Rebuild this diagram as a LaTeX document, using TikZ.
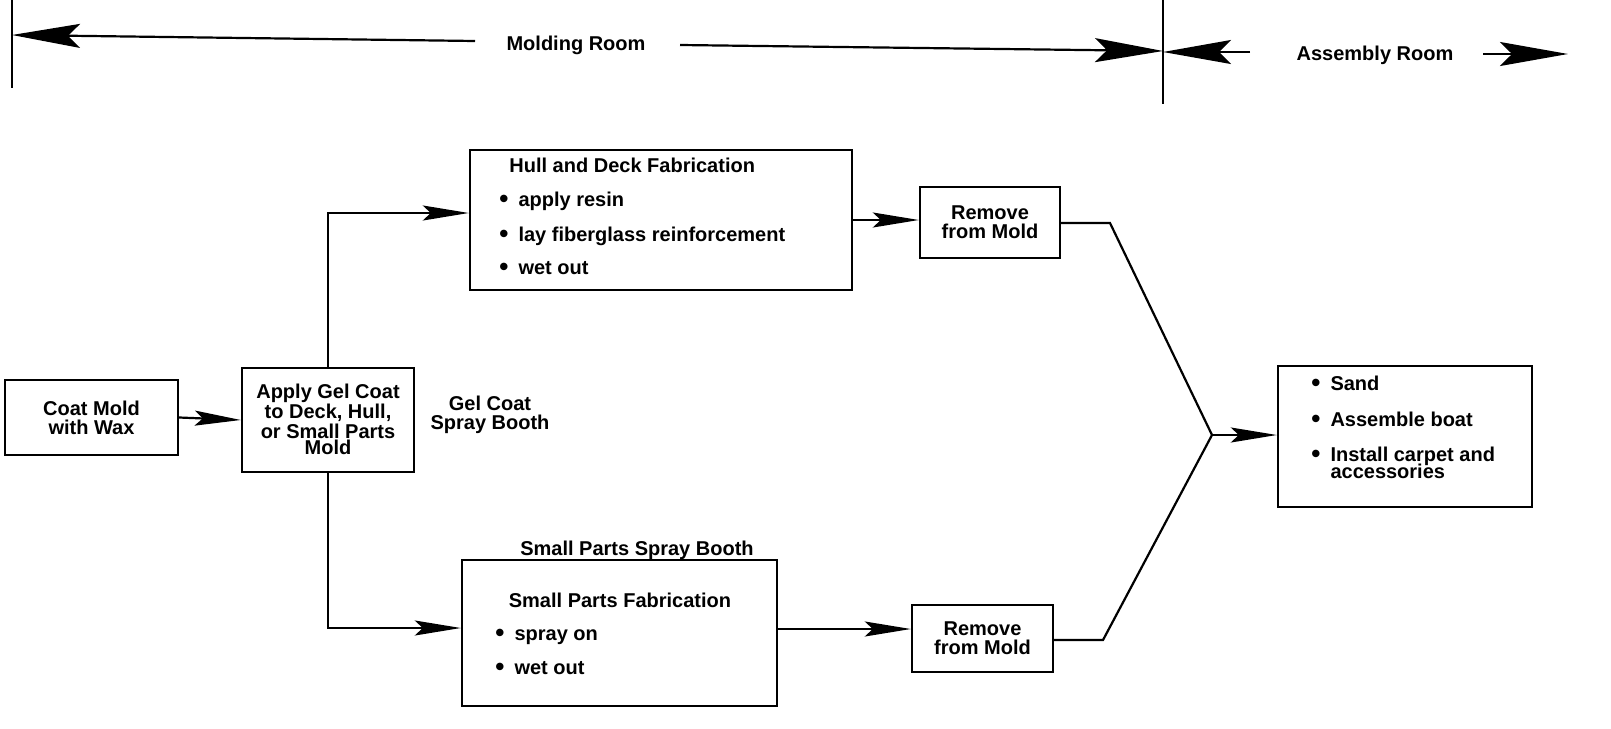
\documentclass[tikz,border=0pt]{standalone}
\usepackage{fontspec}
\setmainfont{Liberation Sans}
\usetikzlibrary{arrows.meta,calc}
\newcommand\mybul{\raisebox{-0.6pt}{\fontsize{13}{8}\selectfont\textbullet}\enspace}
\tikzset{
  box/.style={draw, line width=1.2pt, inner sep=0pt},
  txt/.style={font=\fontsize{10}{9.5}\selectfont\bfseries, inner sep=0pt, align=center},
  tight/.style={font=\fontsize{10}{7.9}\selectfont\bfseries, inner sep=0pt, align=center},
  item/.style={font=\fontsize{10}{8}\selectfont\bfseries, inner sep=0pt, anchor=base west},
  conn/.style={line width=1.1pt},
  flow/.style={line width=1.1pt, -{Stealth[length=23pt, width=7.5pt, inset=4pt]}},
  big/.style={line width=1.1pt, -{Stealth[length=34pt, width=12pt, inset=6pt]}}
}
\begin{document}
\begin{tikzpicture}[x=0.5pt, y=-0.5pt]
\useasboundingbox (0,0) rectangle (1611,728);

% room header
\coordinate (l1) at (12,0);
\coordinate (l2) at (12,88);
\coordinate (m1) at (1163,0);
\coordinate (m2) at (1163,104);
\draw[line width=1.3pt] (l1) -- (l2);
\draw[line width=1.3pt] (m1) -- (m2);
\node[txt, anchor=base] (molding) at (576,50) {Molding Room};
\node[txt, anchor=base] (assembly) at (1375,61) {Assembly Room};
\coordinate (mlA) at (475,41);
\coordinate (mlT) at (12,35);
\coordinate (mrA) at (680,45);
\coordinate (mrT) at (1163,51);
\coordinate (arA) at (1250,52);
\coordinate (arT) at (1163,52);
\coordinate (aeA) at (1483,54);
\coordinate (aeT) at (1568,54);
\draw[big] (mlA) -- (mlT);
\draw[big] (mrA) -- (mrT);
\draw[big] (arA) -- (arT);
\draw[big] (aeA) -- (aeT);

% boxes
\node[box, minimum width=86.5pt, minimum height=37.5pt, txt] (coat) at (91.5,417.5) {Coat Mold\\with Wax};
\node[box, minimum width=86pt, minimum height=52pt] (apply) at (328,420) {};
\node[tight] (applytext) at (328,419) {Apply Gel Coat\\to Deck, Hull,\\or Small Parts\\Mold};
\node[txt] (gelbooth) at (490,415) {Gel Coat\\Spray Booth};

\node[box, minimum width=191pt, minimum height=70pt] (hull) at (661,220) {};
\node[item] (hulltitle) at (509,172) {Hull and Deck Fabrication};
\node[item] (h1) at (499,206) {\mybul apply resin};
\node[item] (h2) at (499,241) {\mybul lay fiberglass reinforcement};
\node[item] (h3) at (499,274) {\mybul wet out};

\node[box, minimum width=70pt, minimum height=35.5pt, txt] (rem1) at (990,222.5) {Remove\\from Mold};

\node[txt, anchor=base] (spbooth) at (637,555) {Small Parts Spray Booth};
\node[box, minimum width=157.5pt, minimum height=73pt] (small) at (619.5,633) {};
\node[txt, anchor=base] (smalltitle) at (620,607) {Small Parts Fabrication};
\node[item] (s1) at (495,640) {\mybul spray on};
\node[item] (s2) at (495,674) {\mybul wet out};

\node[box, minimum width=70.5pt, minimum height=33.5pt, txt] (rem2) at (982.5,638.5) {Remove\\from Mold};

\node[box, minimum width=127pt, minimum height=70.5pt] (asm) at (1405,436.5) {};
\node[item] (a1) at (1311,390) {\mybul Sand};
\node[item] (a2) at (1311,426) {\mybul Assemble boat};
\node[item] (a3) at (1311,461) {\mybul Install carpet and};
\node[item] (a3b) at (1311,478) {\phantom{\mybul}accessories};

% connectors
\draw[flow] (coat.east) -- (apply.west);
\draw[flow] (apply.north) |- ([yshift=3.5pt]hull.west);
\draw[flow] (apply.south) |- ([yshift=2.5pt]small.west);
\draw[flow] (hull.east) -- (hull.east -| rem1.west);
\draw[flow] ([yshift=2pt]small.east) -- ([yshift=2pt]small.east -| rem2.west);
\coordinate (k1) at (1110,223);
\coordinate (k2) at (1103,640);
\coordinate (join) at (1212,435);
\draw[conn] (rem1.east |- k1) -- (k1) -- (join);
\draw[conn] (rem2.east |- k2) -- (k2) -- (join);
\draw[flow] (join) -- (asm.west |- join);
\end{tikzpicture}
\end{document}
